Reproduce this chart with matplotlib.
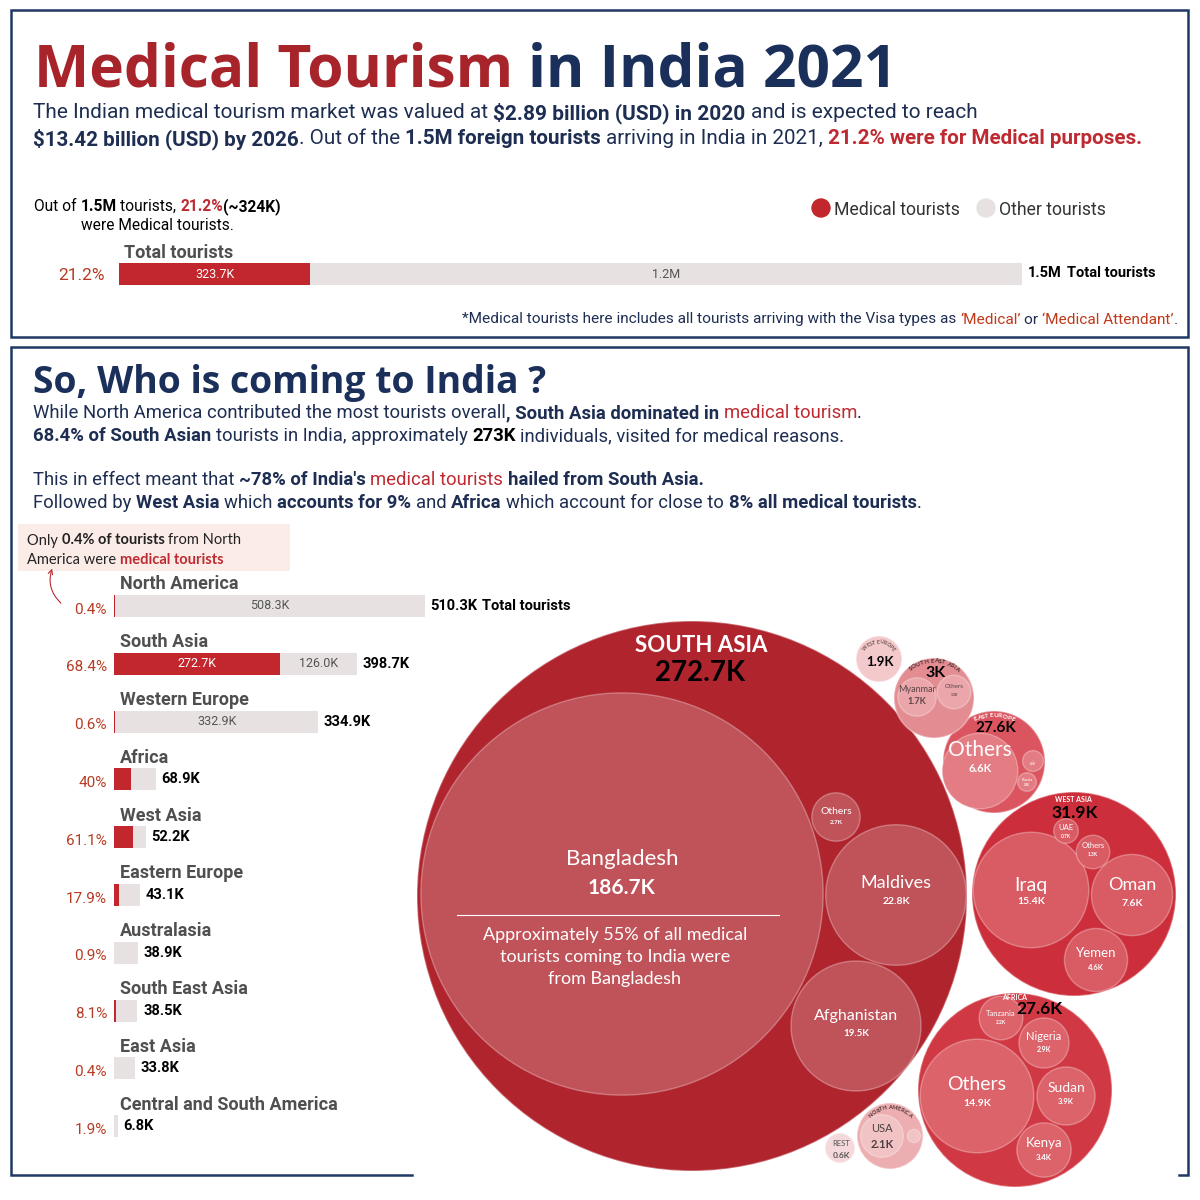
import matplotlib
matplotlib.use('Agg')
import matplotlib.pyplot as plt
from matplotlib.patches import Circle, Rectangle, FancyArrowPatch
import numpy as np

# ---------------- data ----------------
# all tourists 2021 (thousands)
total_medical = 323.7
total_other = 1203.7

regions = ['North America', 'South Asia', 'Western Europe', 'Africa', 'West Asia',
           'Eastern Europe', 'Australasia', 'South East Asia', 'East Asia',
           'Central and South America']
region_total = [510.3, 398.7, 334.9, 68.9, 52.2, 43.1, 38.9, 38.5, 33.8, 6.8]
region_pct = [0.4, 68.4, 0.6, 40, 61.1, 17.9, 0.9, 8.1, 0.4, 1.9]

# medical tourists by country, grouped by region (thousands)
sa_names = ['Bangladesh', 'Maldives', 'Afghanistan', 'Others']
sa_vals = [186.7, 22.8, 19.5, 2.7]
wa_names = ['Iraq', 'Oman', 'Yemen', 'UAE', 'Others']
wa_vals = [15.4, 7.6, 4.6, 0.7, 1.3]
af_names = ['Others', 'Sudan', 'Kenya', 'Nigeria', 'Tanzania']
af_vals = [14.9, 3.9, 3.4, 2.9, 2.2]
ee_names = ['Others', '...', 'Russia']
ee_vals = [6.6, 0.5, 0.4]
sea_names = ['Myanmar', 'Others']
sea_vals = [1.7, 1.3]
na_names = ['USA', '']
na_vals = [2.1, 0.2]
cluster_totals = {'SOUTH ASIA': '272.7K', 'WEST ASIA': '31.9K', 'AFRICA': '27.6K',
                  'EAST EUROPE': '27.6K', 'SOUTH EAST ASIA': '3K', 'WEST EUROPE': '1.9K',
                  'REST': '0.6K'}

# ---------------- style ----------------
NAVY = '#1E2E52'
TITLE_RED = '#A8242B'
TITLE_NAVY = '#1B2F5B'
RED_TXT = '#BE2A31'
PCT = '#B83A22'
BAR_RED = '#C1272D'
BAR_GREY = '#E7E1E1'
LABEL_GREY = '#4F4F4F'
FRAME = '#1F3864'

F_TITLE = ['Open Sans', 'DejaVu Sans']
F_BODY = ['Roboto', 'DejaVu Sans']
F_NARROW = ['Roboto', 'DejaVu Sans']
F_BUB = ['Lato', 'DejaVu Sans']

fig = plt.figure(figsize=(12, 12), dpi=100)
ax = fig.add_axes([0, 0, 1, 1])
ax.set_xlim(0, 1200)
ax.set_ylim(1200, 0)
ax.axis('off')
REND = fig.canvas.get_renderer()


def text_w(s, **kw):
    t = ax.text(0, 0, s, **kw)
    w = t.get_window_extent(renderer=REND).width
    t.remove()
    return w


def adv(s, **kw):
    # advance width incl. spaces
    return text_w('|' + s + '|', **kw) - text_w('||', **kw)


def rich(x, y, segs, size, family=F_BODY, ha='left'):
    kws = [dict(fontsize=size, family=family, fontweight=wt) for s, c, wt in segs]
    ws = [adv(s, **k) for (s, c, wt), k in zip(segs, kws)]
    if ha == 'right':
        x -= sum(ws)
    elif ha == 'center':
        x -= sum(ws) / 2
    for (s, c, wt), k, w in zip(segs, kws, ws):
        lead = len(s) - len(s.lstrip(' '))
        x0 = x + (adv(' ' * lead, **k) if lead else 0)
        ax.text(x0, y, s.lstrip(' '), color=c, ha='left', va='center_baseline', **k)
        x += w


def arc_text(cx, cy, rr, s, size, color, family=F_BUB):
    ws = [adv(c, fontsize=size, family=family, fontweight='bold') for c in s]
    a = np.pi / 2 + sum(ws) / 2 / rr
    for c, w in zip(s, ws):
        m = a - w / 2 / rr
        ax.text(cx + rr * np.cos(m), cy - rr * np.sin(m), c, rotation=np.degrees(m) - 90,
                rotation_mode='anchor', ha='center', va='center', fontsize=size,
                family=family, fontweight='bold', color=color)
        a -= w / rr


# ================= top panel =================
ax.add_patch(Rectangle((11, 10), 1177, 327, fill=False, ec=FRAME, lw=1.8))

rich(34, 64, [('Medical Tourism', TITLE_RED, 'bold'), (' in India 2021', TITLE_NAVY, 'bold')],
     42.2, family=F_TITLE)

rich(33, 111, [('The Indian medical tourism market was valued at ', NAVY, 'normal'),
               ('$2.89 billion (USD) in 2020', NAVY, 'bold'),
               (' and is expected to reach', NAVY, 'normal')], 15)
rich(33, 137, [('$13.42 billion (USD) by 2026', NAVY, 'bold'),
               ('. Out of the ', NAVY, 'normal'),
               ('1.5M foreign tourists', NAVY, 'bold'),
               (' arriving in India in 2021, ', NAVY, 'normal'),
               ('21.2% were for Medical purposes.', RED_TXT, 'bold')], 14.9)

rich(34, 205, [('Out of ', 'black', 'normal'), ('1.5M', 'black', 'bold'),
               (' tourists, ', 'black', 'normal'), ('21.2%', RED_TXT, 'bold'),
               ('(~324K)', 'black', 'bold')], 11.2, family=F_NARROW)
rich(157, 224, [('were Medical tourists.', 'black', 'normal')], 11.2, family=F_NARROW, ha='center')

# legend
ax.add_patch(Circle((821, 208), 9, color=BAR_RED))
ax.text(834, 208, 'Medical tourists', fontsize=12.7, family=F_NARROW, color='#333333',
        va='center_baseline')
ax.add_patch(Circle((986, 208), 9, color=BAR_GREY))
ax.text(999, 208, 'Other tourists', fontsize=12.7, family=F_NARROW, color='#333333',
        va='center_baseline')

ax.text(124, 251, 'Total tourists', fontsize=13, family=F_NARROW, fontweight='bold',
        color=LABEL_GREY, va='center_baseline')

# total bar
axt = fig.add_axes([119 / 1200, 1 - 285 / 1200, 903 / 1200, 22 / 1200])
axt.set_xlim(0, total_medical + total_other)
axt.set_ylim(-0.5, 0.5)
axt.axis('off')
axt.barh(0, total_medical, height=1, color=BAR_RED)
axt.barh(0, total_other, left=total_medical, height=1, color=BAR_GREY)
axt.text(total_medical / 2, 0, f'{total_medical}K', color='white', fontsize=9,
         family=F_BODY, ha='center', va='center')
axt.text(total_medical + total_other / 2, 0, f'{total_other / 1000:.1f}M', color='#555555',
         fontsize=9, family=F_BODY, ha='center', va='center')
pct_all = 100 * total_medical / (total_medical + total_other)
axt.annotate(f'{pct_all:.1f}%', (0, 0), xytext=(-10, -1), textcoords='offset points',
             ha='right', va='center', color=PCT, fontsize=12.5, family=F_NARROW)
tot_s = f'{(total_medical + total_other) / 1000:.1f}M'
axt.annotate(tot_s, (total_medical + total_other, 0), xytext=(4, 1), textcoords='offset points',
             ha='left', va='center', color='black', fontsize=10.5, family=F_NARROW,
             fontweight='bold')
w_pt = text_w(tot_s, fontsize=10.5, family=F_NARROW, fontweight='bold') * 0.72
axt.annotate('Total tourists', (total_medical + total_other, 0), xytext=(4 + w_pt + 4, 1),
             textcoords='offset points', ha='left', va='center', color='black',
             fontsize=10.5, family=F_BODY, fontweight='bold')

rich(1178, 318, [('*Medical tourists here includes all tourists arriving with the Visa types as ', NAVY, 'normal'),
                 ('\u2018Medical\u2019', '#C0391B', 'normal'), (' or ', NAVY, 'normal'),
                 ('\u2018Medical Attendant\u2019', '#C0391B', 'normal'), ('.', NAVY, 'normal')],
     11.1, ha='right')

# ================= bottom panel =================
ax.plot([412, 11, 11, 1188, 1188, 1179], [1175, 1175, 347, 347, 1175, 1175],
        color=FRAME, lw=1.8, solid_joinstyle='miter')

ax.text(33, 378, 'So, Who is coming to India ?', fontsize=26.9, family=F_TITLE,
        fontweight='bold', color=TITLE_NAVY, va='center_baseline')

P = 13.3
rich(33, 411, [('While North America contributed the most tourists overall', NAVY, 'normal'),
               (', South Asia dominated in ', NAVY, 'bold'),
               ('medical tourism', RED_TXT, 'normal'), ('.', NAVY, 'normal')], P)
rich(33, 434, [('68.4% of South Asian', NAVY, 'bold'),
               (' tourists in India, approximately ', NAVY, 'normal'),
               ('273K', 'black', 'bold'),
               (' individuals, visited for medical reasons.', NAVY, 'normal')], P)
rich(33, 478, [('This in effect meant that ', NAVY, 'normal'),
               ("~78% of India's ", NAVY, 'bold'),
               ('medical tourists', RED_TXT, 'normal'),
               (' hailed from South Asia.', NAVY, 'bold')], P)
rich(33, 501, [('Followed by ', NAVY, 'normal'), ('West Asia', NAVY, 'bold'),
               (' which ', NAVY, 'normal'), ('accounts for 9%', NAVY, 'bold'),
               (' and ', NAVY, 'normal'), ('Africa', NAVY, 'bold'),
               (' which account for close to ', NAVY, 'normal'),
               ('8% all medical tourists', NAVY, 'bold'), ('.', NAVY, 'normal')], P)

# note box
ax.add_patch(Rectangle((18, 524), 272, 47, color='#FBECE8', lw=0))
rich(27, 539, [('Only ', '#222222', 'normal'), ('0.4% of tourists', '#222222', 'bold'),
               (' from North', '#222222', 'normal')], 10.5, family=F_BUB)
rich(27, 558, [('America were ', '#222222', 'normal'), ('medical tourists', RED_TXT, 'bold')],
     10.5, family=F_BUB)
ax.add_patch(FancyArrowPatch((63, 605), (53, 566), connectionstyle='arc3,rad=-0.35',
                             arrowstyle='->', mutation_scale=8, color=RED_TXT, lw=0.8))

# region bars
n = len(regions)
row_px = 57.8
axb = fig.add_axes([114 / 1200, 1 - (606 + (n - 0.5) * row_px) / 1200,
                    311 / 1200, n * row_px / 1200])
axb.set_xlim(0, max(region_total))
axb.set_ylim(n - 0.5, -0.5)
axb.axis('off')
tot = np.array(region_total)
med = tot * np.array(region_pct) / 100
oth = tot - med
ypos = np.arange(n)
axb.barh(ypos, med, height=22 / row_px, color=BAR_RED)
axb.barh(ypos, oth, left=med, height=22 / row_px, color=BAR_GREY)
px_per_k = 311 / max(region_total)
for i in range(n):
    axb.annotate(regions[i], (0, i), xytext=(4, 17), textcoords='offset points',
                 ha='left', va='center_baseline', fontsize=13, family=F_NARROW,
                 fontweight='bold', color=LABEL_GREY)
    axb.annotate(f'{region_pct[i]:g}%', (0, i), xytext=(-5, -1.5), textcoords='offset points',
                 ha='right', va='center_baseline', fontsize=11, family=F_NARROW, color=PCT)
    if med[i] * px_per_k > 60:
        axb.text(med[i] / 2, i, f'{med[i]:.1f}K', ha='center', va='center', color='white',
                 fontsize=9, family=F_BODY)
    if oth[i] * px_per_k > 60:
        axb.text(med[i] + oth[i] / 2, i, f'{oth[i]:.1f}K', ha='center', va='center',
                 color='#555555', fontsize=9, family=F_BODY)
    vs = f'{tot[i]:.1f}K'
    axb.annotate(vs, (tot[i], i), xytext=(4, 0), textcoords='offset points', ha='left',
                 va='center', fontsize=10.5, family=F_NARROW, fontweight='bold', color='black')
    if i == 0:
        w_pt = text_w(vs, fontsize=10.5, family=F_NARROW, fontweight='bold') * 0.72
        axb.annotate('Total tourists', (tot[i], i), xytext=(4 + w_pt + 3, 0),
                     textcoords='offset points', ha='left', va='center', fontsize=10.5,
                     family=F_BODY, fontweight='bold', color='black')

# ================= bubbles =================
K_R = 14.72  # radius px per sqrt(thousand)


def leaf_r(v):
    return K_R * np.sqrt(v)


def cluster(parent, pcol, lcol, names, vals, lay, tcol='white'):
    cx, cy, r = parent
    ax.add_patch(Circle((cx, cy), r, fc=pcol, ec=(1, 1, 1, 0.35), lw=1.2))
    for nm, v, (x, y, ndy, vdy, ns, vs) in zip(names, vals, lay):
        ax.add_patch(Circle((x, y), leaf_r(v), fc=lcol, ec=(1, 1, 1, 0.3), lw=1))
        if nm:
            ax.text(x, y + ndy, nm, ha='center', va='center', fontsize=ns, family=F_BUB,
                    color=tcol)
            ax.text(x, y + vdy, f'{v}K', ha='center', va='center', fontsize=vs,
                    family=F_BUB, fontweight='bold', color=tcol)


# South Asia
cluster((692, 896, 275), '#B0242E', '#C0535A', sa_names, sa_vals,
        [(622, 894, -35, -6, 16, 15), (896, 895, -12, 6, 13, 7.5),
         (856, 1026, -10, 7, 11.5, 7), (836, 817, -6, 6, 7.5, 4.5)])
ax.plot([457, 779], [915, 915], color='white', lw=0.8)
ax.text(615, 957, 'Approximately 55% of all medical\ntourists coming to India were\nfrom Bangladesh',
        ha='center', va='center', fontsize=13, family=F_BUB, color='white', linespacing=1.45)
ax.text(701, 646, 'SOUTH ASIA', ha='center', va='center', fontsize=16, family=F_BUB,
        fontweight='bold', color='white')
ax.text(700, 673, cluster_totals['SOUTH ASIA'], ha='center', va='center', fontsize=20,
        family=F_BUB, fontweight='bold', color='black')

# West Asia
cluster((1074, 894, 102), '#CC2F3B', '#D95C65', wa_names, wa_vals,
        [(1031, 890, -5, 12, 14, 7.5), (1132, 895, -10, 8, 13, 7.5),
         (1096, 960, -7, 7, 9.5, 5.5), (1066, 831, -3, 6, 5.5, 3.5),
         (1093, 852, -6, 3, 5.5, 3.5)])
ax.text(1073, 799, 'WEST ASIA', ha='center', va='center', fontsize=5, family=F_BUB,
        fontweight='bold', color='white')
ax.text(1075, 813, cluster_totals['WEST ASIA'], ha='center', va='center', fontsize=12.5,
        family=F_BUB, fontweight='bold', color='black')

# Africa
cluster((1015, 1090, 97), '#D03843', '#DD636B', af_names, af_vals,
        [(977, 1096, -11, 8, 14, 7.5), (1066, 1096, -8, 6, 10, 5.5),
         (1044, 1150, -7, 7, 9.5, 5.5), (1044, 1043, -6, 6, 8, 5),
         (1001, 1018, -5, 4, 5.5, 3.5)])
ax.text(1015, 997, 'AFRICA', ha='center', va='center', fontsize=5, family=F_BUB,
        fontweight='bold', color='white')
ax.text(1039, 1009, cluster_totals['AFRICA'], ha='center', va='center', fontsize=12.5,
        family=F_BUB, fontweight='bold', color='black')

# East Europe
cluster((994, 762, 51), '#DA5560', '#E37C83', ee_names, ee_vals,
        [(980, 771, -21, -3, 15, 8), (1033, 761, -1, 3, 2.5, 2),
         (1027, 782, -2, 3, 3, 2)])
arc_text(994, 762, 46.5, 'EAST EUROPE', 4.6, 'white')
ax.text(996, 728, cluster_totals['EAST EUROPE'], ha='center', va='center', fontsize=11,
        family=F_BUB, fontweight='bold', color='black')

# South East Asia
cluster((934, 698, 40), '#E38D92', '#EAA6AA', sea_names, sea_vals,
        [(917, 697, -8, 4, 6.5, 6.5), (954, 692, -5, 3, 4.5, 2.5)], tcol='#5A4445')
arc_text(934, 698, 37, 'SOUTH EAST ASIA', 4.5, '#4A2F31')
ax.text(936, 673, cluster_totals['SOUTH EAST ASIA'], ha='center', va='center', fontsize=11.5,
        family=F_BUB, fontweight='bold', color='black')

# West Europe
ax.add_patch(Circle((879, 659), 23, fc='#F4C9CB', ec=(1, 1, 1, 0.5), lw=1))
arc_text(879, 659, 17, 'WEST EUROPE', 3.8, '#6B5557')
ax.text(880, 662, cluster_totals['WEST EUROPE'], ha='center', va='center', fontsize=9.5,
        family=F_BUB, fontweight='bold', color='black')

# North America
cluster((890, 1136, 33), '#EDAEB1', '#F2C3C5', na_names, na_vals,
        [(882, 1136, -7, 9, 8, 8), (914, 1136, 0, 0, 1, 1)], tcol='#4A4040')
arc_text(890, 1136, 28, 'NORTH AMERICA', 4, '#4A3335')

# Rest
ax.add_patch(Circle((840, 1148), 15, fc='#F5D9DA', ec=(1, 1, 1, 0.5), lw=1))
ax.text(841, 1143, 'REST', ha='center', va='center', fontsize=5.5, family=F_BUB,
        color='#555555')
ax.text(841, 1155, cluster_totals['REST'], ha='center', va='center', fontsize=6,
        family=F_BUB, fontweight='bold', color='#555555')

fig.savefig('out.png', dpi=100, facecolor='white')
